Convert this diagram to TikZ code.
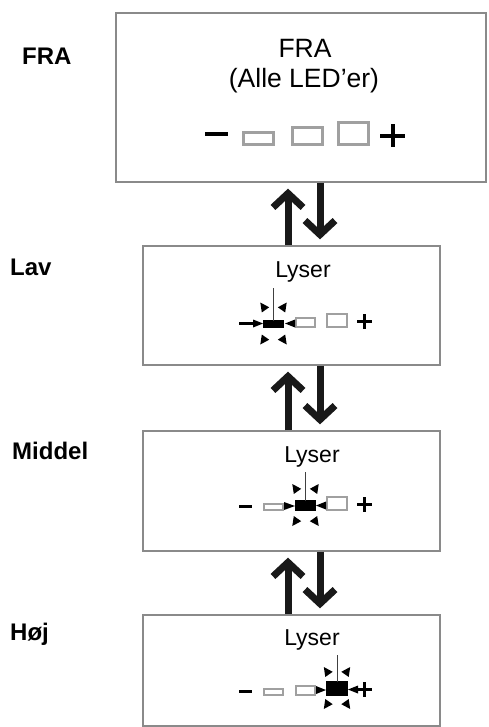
\documentclass[tikz,border=0pt]{standalone}
\usepackage{fontspec}
\setmainfont{Liberation Sans}
\usetikzlibrary{arrows.meta}
\definecolor{boxgray}{HTML}{8A8A8A}
\definecolor{ledgray}{HTML}{A0A0A0}
% one ray: upper-left wedge, mirrored by #3 (x) and #4 (y)
\newcommand\ledray[4]{\fill[shift={(#1,#2)},xscale=#3,yscale=#4] (-3.2,-4.5) -- (5.7,0.3) -- (-1.7,5.45) -- cycle;}
\newcommand\ledburst[2]{%
  \ledray{#1-10}{#2-17}{1}{1}\ledray{#1+10}{#2-17}{-1}{1}%
  \ledray{#1-10}{#2+16}{1}{-1}\ledray{#1+10}{#2+16}{-1}{-1}}
\begin{document}
\begin{tikzpicture}[x=1pt,y=-1pt,
  panel/.style={draw=boxgray, line width=1.3pt, inner sep=0pt, fill=none},
  bigtxt/.style={font=\fontsize{26.5}{30}\selectfont, inner sep=0pt, anchor=base},
  lystxt/.style={font=\fontsize{23}{26}\selectfont, inner sep=0pt, anchor=base},
  sidelbl/.style={font=\fontsize{24}{28}\selectfont\bfseries, inner sep=0pt, anchor=base west},
  bigarr/.style={line width=7pt, black!90, -{Straight Barb[length=14pt,width=30pt,line width=7pt]}},
  ledoff/.style={draw=ledgray, line width=2pt},
  ledbig/.style={draw=ledgray, line width=3pt},
  ledon/.style={draw=black, fill=black, line width=2pt},
  pmbig/.style={draw=black, line width=4pt},
  pmsmall/.style={draw=black, line width=3pt},
  feeler/.style={draw=black!75, line width=0.9pt}]
\useasboundingbox[fill=white] (0,0) rectangle (488,727);

% panels
\node[panel, minimum width=370pt, minimum height=169pt] (fra) at (301,97.5) {};
\node[panel, minimum width=297pt, minimum height=119pt] (lav) at (291.5,305.5) {};
\node[panel, minimum width=297pt, minimum height=120pt] (mid) at (291.5,491) {};
\node[panel, minimum width=297pt, minimum height=111pt] (hoj) at (291.5,670.5) {};

% side labels
\node[sidelbl] (lfra) at (22,65) {FRA};
\node[sidelbl] (llav) at (10,275) {Lav};
\node[sidelbl] (lmid) at (12,459) {Middel};
\node[sidelbl] (lhoj) at (10,640) {Høj};

% texts in panels
\node[bigtxt] (tfra) at (305,58) {FRA};
\node[bigtxt] (talle) at (304,88) {(Alle LED’er)};
\node[lystxt] (tlav) at (303,277) {Lyser};
\node[lystxt] (tmid) at (312,462) {Lyser};
\node[lystxt] (thoj) at (312,645) {Lyser};

% big arrows
\coordinate (ua) at (288,0);
\coordinate (da) at (320,0);
\draw[bigarr, shorten >=6pt] (lav.north -| ua) -- (fra.south -| ua);
\draw[bigarr, shorten >=6pt] (fra.south -| da) -- (lav.north -| da);
\draw[bigarr, shorten >=6pt] (mid.north -| ua) -- (lav.south -| ua);
\draw[bigarr, shorten >=6pt] (lav.south -| da) -- (mid.north -| da);
\draw[bigarr, shorten >=6pt] (hoj.north -| ua) -- (mid.south -| ua);
\draw[bigarr, shorten >=6pt] (mid.south -| da) -- (hoj.north -| da);

% FRA row
\draw[pmbig] (205,134.5) -- (228,134.5);
\draw[ledbig] (243,133) rectangle (273,145);
\draw[ledbig] (292,128) rectangle (322,145);
\draw[ledbig] (338,123) rectangle (368,145);
\draw[pmbig] (380,136) -- (405,136) (392.5,124.5) -- (392.5,147.5);

% Lav row
\begin{scope}[shift={(0,327)}]
  \draw[pmsmall] (239,-4) -- (254,-4);
  \fill (263,-3.5) -- (253,-7.5) -- (253,0.5) -- cycle;
  \draw[ledon] (264,-6) rectangle (283,0);
  \draw[ledoff] (296,-9) rectangle (315,0);
  \fill (285,-3.5) -- (295,-7.5) -- (295,0.5) -- cycle;
  \draw[ledoff] (327,-13) rectangle (347,0);
  \draw[pmsmall] (357,-5.5) -- (372,-5.5) (364.5,-13) -- (364.5,2);
  \draw[feeler] (273.5,-6) -- (273.5,-39);
  \ledburst{273.5}{-3}
\end{scope}

% Middel row
\begin{scope}[shift={(0,510)}]
  \draw[pmsmall] (239,-4) -- (252,-4);
  \draw[ledoff] (264,-6) rectangle (283,0);
  \fill (295,-4) -- (284,-8) -- (284,0) -- cycle;
  \draw[ledon] (296,-9) rectangle (315,0);
  \draw[ledoff] (327,-13) rectangle (347,0);
  \fill (316,-4.5) -- (326,-8.5) -- (326,-0.5) -- cycle;
  \draw[pmsmall] (357,-5.5) -- (372,-5.5) (364.5,-13) -- (364.5,2);
  \draw[feeler] (305.5,-9) -- (305.5,-38);
  \ledburst{305.5}{-4.5}
\end{scope}

% Hoj row
\begin{scope}[shift={(0,695)}]
  \draw[pmsmall] (239,-4) -- (252,-4);
  \draw[ledoff] (264,-6) rectangle (283,0);
  \draw[ledoff] (296,-9) rectangle (315,0);
  \fill (326,-5) -- (316,-9) -- (316,-1) -- cycle;
  \draw[ledon] (327,-13) rectangle (347,0);
  \fill (348,-5.5) -- (358,-9.5) -- (358,-1.5) -- cycle;
  \draw[pmsmall] (357,-5.5) -- (372,-5.5) (364.5,-13) -- (364.5,2);
  \draw[feeler] (337,-13) -- (337,-40);
  \ledburst{337}{-6.5}
\end{scope}
\end{tikzpicture}
\end{document}
